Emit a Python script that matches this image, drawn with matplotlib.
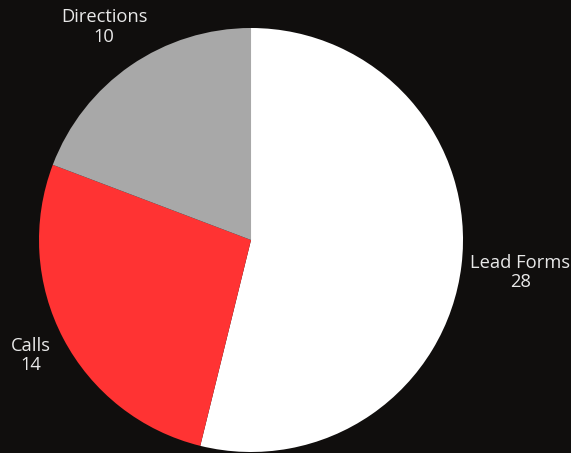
import numpy as np
import matplotlib.pyplot as plt

categories = ["Lead Forms", "Calls", "Directions"]
values = [28, 14, 10]
colors = ["#ffffff", "#ff3333", "#a8a8a8"]
label_dist = [1.28, 1.175, 1.22]

BG = "#100e0d"

plt.rcParams["font.family"] = ["Open Sans", "DejaVu Sans"]

fig = plt.figure(figsize=(5.71, 4.53), dpi=100, facecolor=BG)
ax = fig.add_axes([0.0683, 0.0022, 0.7426, 0.936])
ax.set_facecolor(BG)

wedges, _ = ax.pie(values, colors=colors, startangle=90, counterclock=False,
                   wedgeprops=dict(linewidth=0))

# labels centred on each slice's mid angle
for w, c, v, d in zip(wedges, categories, values, label_dist):
    mid = np.deg2rad((w.theta1 + w.theta2) / 2)
    ax.text(d * np.cos(mid), d * np.sin(mid), f"{c}\n{v}",
            ha="center", va="center", color="#e8e8e8", fontsize=13.2,
            linespacing=1.1)

ax.set_aspect("equal")
ax.set_xlim(-1, 1)
ax.set_ylim(-1, 1)

fig.savefig("out.png", dpi=100, facecolor=BG)
